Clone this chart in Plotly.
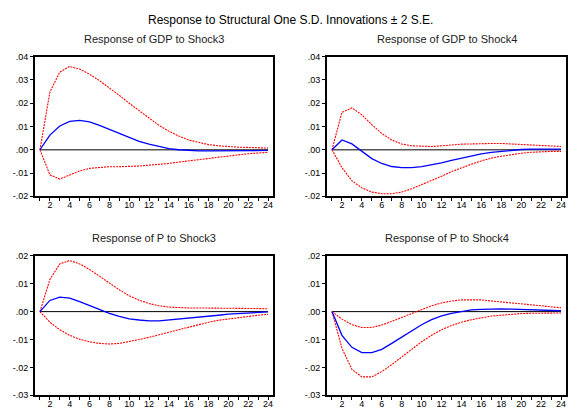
import plotly.graph_objects as go

periods = list(range(1, 25))

gdp_s3 = [0, 0.0063, 0.0102, 0.0122, 0.0126, 0.0120, 0.0105, 0.0087, 0.0069, 0.0052, 0.0036, 0.0024,
          0.0013, 0.0005, 0.0000, -0.0004, -0.0005, -0.0005, -0.0005, -0.0005, -0.0004, -0.0004, -0.0003, -0.0003]
gdp_s3_hi = [0, 0.0248, 0.0334, 0.0358, 0.0347, 0.0325, 0.0297, 0.0266, 0.0234, 0.0200, 0.0168, 0.0136,
             0.0105, 0.0080, 0.0059, 0.0042, 0.0031, 0.0022, 0.0017, 0.0013, 0.0011, 0.0010, 0.0009, 0.0007]
gdp_s3_lo = [0, -0.0108, -0.0126, -0.0110, -0.0091, -0.0080, -0.0076, -0.0073, -0.0073, -0.0072, -0.0070, -0.0066,
             -0.0063, -0.0059, -0.0053, -0.0048, -0.0042, -0.0036, -0.0031, -0.0025, -0.0021, -0.0017, -0.0014, -0.0011]

gdp_s4 = [0, 0.0042, 0.0025, -0.0007, -0.0038, -0.0059, -0.0072, -0.0077, -0.0077, -0.0073, -0.0066, -0.0056,
          -0.0046, -0.0036, -0.0027, -0.0018, -0.0011, -0.0006, -0.0002, 0.0001, 0.0003, 0.0003, 0.0003, 0.0003]
gdp_s4_hi = [0, 0.0161, 0.0180, 0.0150, 0.0108, 0.0070, 0.0042, 0.0025, 0.0017, 0.0014, 0.0014, 0.0017,
             0.0021, 0.0024, 0.0025, 0.0027, 0.0027, 0.0027, 0.0025, 0.0022, 0.0020, 0.0018, 0.0015, 0.0014]
gdp_s4_lo = [0, -0.0077, -0.0133, -0.0164, -0.0182, -0.0189, -0.0189, -0.0182, -0.0168, -0.0151, -0.0133, -0.0114,
             -0.0094, -0.0077, -0.0062, -0.0048, -0.0036, -0.0028, -0.0021, -0.0015, -0.0011, -0.0008, -0.0007, -0.0007]

p_s3 = [0, 0.0040, 0.0052, 0.0048, 0.0036, 0.0022, 0.0008, -0.0006, -0.0017, -0.0026, -0.0030, -0.0033,
        -0.0033, -0.0030, -0.0027, -0.0023, -0.0020, -0.0016, -0.0013, -0.0009, -0.0007, -0.0005, -0.0002, -0.0001]
p_s3_hi = [0, 0.0115, 0.0171, 0.0183, 0.0171, 0.0151, 0.0127, 0.0101, 0.0078, 0.0057, 0.0041, 0.0029,
           0.0021, 0.0016, 0.0014, 0.0013, 0.0013, 0.0013, 0.0013, 0.0013, 0.0012, 0.0012, 0.0011, 0.0010]
p_s3_lo = [0, -0.0038, -0.0065, -0.0085, -0.0099, -0.0108, -0.0114, -0.0116, -0.0114, -0.0108, -0.0100, -0.0092,
           -0.0083, -0.0073, -0.0064, -0.0055, -0.0047, -0.0038, -0.0031, -0.0026, -0.0021, -0.0016, -0.0013, -0.0010]

p_s4 = [0, -0.0085, -0.0128, -0.0147, -0.0147, -0.0135, -0.0114, -0.0091, -0.0067, -0.0047, -0.0029, -0.0015,
        -0.0006, 0.0001, 0.0006, 0.0008, 0.0010, 0.0010, 0.0009, 0.0008, 0.0007, 0.0006, 0.0005, 0.0003]
p_s4_hi = [0, -0.0027, -0.0047, -0.0057, -0.0057, -0.0048, -0.0035, -0.0021, -0.0007, 0.0008, 0.0021, 0.0031,
           0.0038, 0.0042, 0.0043, 0.0042, 0.0038, 0.0035, 0.0031, 0.0028, 0.0024, 0.0021, 0.0017, 0.0014]
p_s4_lo = [0, -0.0131, -0.0207, -0.0234, -0.0234, -0.0215, -0.0190, -0.0162, -0.0135, -0.0108, -0.0085, -0.0065,
           -0.0050, -0.0038, -0.0029, -0.0022, -0.0016, -0.0013, -0.0009, -0.0007, -0.0006, -0.0005, -0.0005, -0.0005]

main_title = "Response to Structural One S.D. Innovations ± 2 S.E."
panel_titles = ["Response of GDP to Shock3", "Response of GDP to Shock4",
                "Response of P to Shock3", "Response of P to Shock4"]

top_ticks = [0.04, 0.03, 0.02, 0.01, 0.0, -0.01, -0.02]
top_labels = [".04", ".03", ".02", ".01", ".00", "-.01", "-.02"]
bot_ticks = [0.02, 0.01, 0.0, -0.01, -0.02, -0.03]
bot_labels = [".02", ".01", ".00", "-.01", "-.02", "-.03"]

x_labels = [str(p) if p % 2 == 0 else "" for p in periods]

W, H = 577, 414
panels = [
    dict(x0=35, x1=273, y0=53, y1=196, data=(gdp_s3, gdp_s3_hi, gdp_s3_lo), rng=[-0.02, 0.04], tv=top_ticks, tt=top_labels, zc="#555555", zw=1.6),
    dict(x0=327, x1=566, y0=53, y1=196, data=(gdp_s4, gdp_s4_hi, gdp_s4_lo), rng=[-0.02, 0.04], tv=top_ticks, tt=top_labels, zc="#555555", zw=1.6),
    dict(x0=35, x1=273, y0=257, y1=400, data=(p_s3, p_s3_hi, p_s3_lo), rng=[-0.03, 0.02], tv=bot_ticks, tt=bot_labels, zc="black", zw=1),
    dict(x0=327, x1=566, y0=257, y1=400, data=(p_s4, p_s4_hi, p_s4_lo), rng=[-0.03, 0.02], tv=bot_ticks, tt=bot_labels, zc="black", zw=1),
]

fig = go.Figure()
font = "Liberation Sans, Arial, sans-serif"
annotations = [dict(text=main_title, x=290 / W, y=1 - 15 / H, xref="paper", yref="paper",
                    xanchor="center", yanchor="middle",
                    showarrow=False, font=dict(size=12, color="black", family=font))]
for i, p in enumerate(panels):
    n = "" if i == 0 else str(i + 1)
    mid, hi, lo = p["data"]
    fig.add_trace(go.Scatter(x=periods, y=[0] * len(periods), mode="lines",
                             line=dict(color=p["zc"], width=p["zw"]), xaxis="x" + n, yaxis="y" + n, hoverinfo="skip"))
    fig.add_trace(go.Scatter(x=periods, y=hi, mode="lines", line=dict(color="red", width=1.1, dash="2px,1px"),
                             xaxis="x" + n, yaxis="y" + n))
    fig.add_trace(go.Scatter(x=periods, y=lo, mode="lines", line=dict(color="red", width=1.1, dash="2px,1px"),
                             xaxis="x" + n, yaxis="y" + n))
    fig.add_trace(go.Scatter(x=periods, y=mid, mode="lines", line=dict(color="blue", width=1.3),
                             xaxis="x" + n, yaxis="y" + n))
    xa = dict(domain=[p["x0"] / W, p["x1"] / W], range=[0.5, 24.5], anchor="y" + n,
              tickmode="array", tickvals=periods, ticktext=x_labels, ticks="outside", ticklen=3,
              tickwidth=1, tickcolor="black", showline=True, linecolor="black", linewidth=2, mirror=True,
              showgrid=False, zeroline=False, ticklabelstandoff=-4,
              tickfont=dict(size=9, color="black", family=font))
    ya = dict(domain=[1 - p["y1"] / H, 1 - p["y0"] / H], range=p["rng"], anchor="x" + n,
              tickmode="array", tickvals=p["tv"], ticktext=p["tt"], ticks="outside", ticklen=3,
              tickwidth=1, tickcolor="black", showline=True, linecolor="black", linewidth=2, mirror=True,
              showgrid=False, zeroline=False, tickfont=dict(size=9, color="black", family=font))
    fig.update_layout(**{"xaxis" + n: xa, "yaxis" + n: ya})
    annotations.append(dict(text=panel_titles[i], x=(p["x0"] + p["x1"]) / 2 / W, y=1 - (p["y0"] - 18) / H,
                            xref="paper", yref="paper", xanchor="center", yanchor="middle", showarrow=False,
                            font=dict(size=11, color="#222222", family=font)))

fig.update_layout(width=W, height=H, margin=dict(l=0, r=0, t=0, b=0), showlegend=False,
                  paper_bgcolor="white", plot_bgcolor="white", annotations=annotations)
fig.write_html("out.html", config={"displayModeBar": False},
               post_script="document.body.style.margin='0';document.body.style.overflow='hidden';")
